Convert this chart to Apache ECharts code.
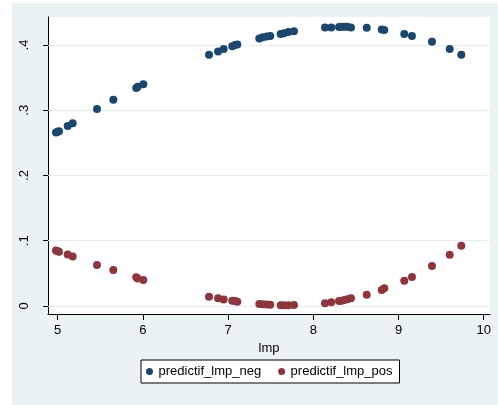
<!DOCTYPE html>
<html>
<head>
<meta charset="utf-8">
<script src="https://cdn.jsdelivr.net/npm/echarts@6/dist/echarts.min.js"></script>
<style>
  html, body { margin: 0; padding: 0; background: #ffffff; }
  #frame { position: absolute; left: 12px; top: 3px; width: 486px; height: 402px; background: #eaf2f3; }
  #chart { width: 486px; height: 402px; }
</style>
</head>
<body>
<div id="frame"><div id="chart"></div></div>
<script>
// lmp values and the two fitted predictions at each of them
const lmp = [4.98, 5.00, 5.015, 5.117, 5.176, 5.461, 5.653, 5.922, 5.939, 6.005,
  6.776, 6.882, 6.948, 7.049, 7.081, 7.108, 7.366, 7.406, 7.453, 7.495,
  7.617, 7.656, 7.707, 7.773, 8.137, 8.211, 8.302, 8.333, 8.364, 8.399,
  8.442, 8.627, 8.803, 8.833, 9.068, 9.158, 9.393, 9.601, 9.737];
const predictifLmpNeg = [0.266, 0.267, 0.268, 0.276, 0.280, 0.302, 0.316, 0.334, 0.336, 0.340,
  0.385, 0.390, 0.394, 0.398, 0.400, 0.401, 0.410, 0.412, 0.413, 0.414,
  0.417, 0.418, 0.420, 0.421, 0.427, 0.427, 0.4276, 0.428, 0.428, 0.428,
  0.427, 0.4265, 0.424, 0.423, 0.417, 0.414, 0.405, 0.394, 0.385];
const predictifLmpPos = [0.085, 0.084, 0.083, 0.079, 0.076, 0.063, 0.055, 0.044, 0.042, 0.040,
  0.014, 0.012, 0.010, 0.008, 0.0075, 0.0066, 0.003, 0.0026, 0.0024, 0.002,
  0.001, 0.001, 0.001, 0.0015, 0.004, 0.0057, 0.0077, 0.0081, 0.0092, 0.0103,
  0.0118, 0.0173, 0.0245, 0.0271, 0.0388, 0.0444, 0.0613, 0.0786, 0.0924];

const xTicks = [5, 6, 7, 8, 9, 10];
const yTicks = [0, 0.1, 0.2, 0.3, 0.4];
const seriesNames = ['predictif_lmp_neg', 'predictif_lmp_pos'];

const FONT = '"Liberation Sans", Arial, sans-serif';
const NAVY = '#1a476f';
const MAROON = '#90353b';

const pairs = (xs, ys) => xs.map((x, i) => [x, ys[i]]);
const fmtY = v => (v === 0 ? '0' : String(+v.toFixed(1)).replace(/^0\./, '.'));

const chart = echarts.init(document.getElementById('chart'), null, { renderer: 'canvas' });
chart.setOption({
  animation: false,
  backgroundColor: 'transparent',
  textStyle: { fontFamily: FONT },
  grid: {
    left: 36, right: 8, top: 14, bottom: 91,
    show: true, backgroundColor: '#ffffff', borderWidth: 0
  },
  xAxis: {
    type: 'value',
    min: 4.886, max: 10.074,
    name: 'lmp',
    nameLocation: 'middle',
    nameGap: 25,
    nameTextStyle: { color: '#000', fontSize: 13, fontFamily: FONT },
    axisLine: { show: true, onZero: false, lineStyle: { color: '#000', width: 1 } },
    axisTick: { show: true, length: 6, lineStyle: { color: '#000' }, customValues: xTicks },
    axisLabel: { color: '#000', fontSize: 13, margin: 10, fontFamily: FONT, customValues: xTicks },
    splitLine: { show: false }
  },
  yAxis: {
    type: 'value',
    min: -0.0123, max: 0.443,
    axisLine: { show: true, onZero: false, lineStyle: { color: '#000', width: 1 } },
    axisTick: { show: true, length: 5, lineStyle: { color: '#000' }, customValues: yTicks },
    axisLabel: {
      color: '#000', fontSize: 13, margin: 17, rotate: 90, fontFamily: FONT,
      customValues: yTicks, formatter: fmtY
    },
    splitLine: { show: false }
  },
  legend: {
    data: seriesNames,
    left: 129, top: 357,
    orient: 'horizontal',
    icon: 'circle',
    itemWidth: 8, itemHeight: 7,
    itemGap: 17,
    padding: [5, 7, 5, 5],
    borderColor: '#000', borderWidth: 1, borderRadius: 0,
    backgroundColor: '#ffffff',
    textStyle: { color: '#000', fontSize: 13, fontFamily: FONT }
  },
  series: [
    {
      name: seriesNames[0],
      type: 'scatter',
      symbol: 'circle',
      symbolSize: 8,
      z: 3,
      itemStyle: { color: NAVY, opacity: 1 },
      data: pairs(lmp, predictifLmpNeg),
      markLine: {
        silent: true,
        z: 1,
        symbol: ['none', 'none'],
        label: { show: false },
        lineStyle: { color: '#e4eef0', width: 1, type: 'solid' },
        data: yTicks.map(v => ({ yAxis: v }))
      }
    },
    {
      name: seriesNames[1],
      type: 'scatter',
      symbol: 'circle',
      symbolSize: 8,
      z: 3,
      itemStyle: { color: MAROON, opacity: 1 },
      data: pairs(lmp, predictifLmpPos)
    }
  ]
});
</script>
</body>
</html>
